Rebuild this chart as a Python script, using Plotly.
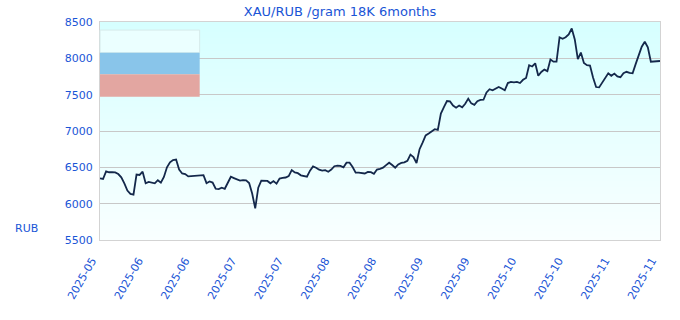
import base64, struct, zlib
import pandas as pd
import plotly.graph_objects as go

# ---- data ----
start_date = "2025-05-20"
end_date = "2025-11-20"
prices = [
    6349, 6340, 6445, 6432, 6432, 6430, 6408, 6362, 6280, 6180,
    6135, 6125, 6400, 6395, 6440, 6280, 6300, 6285, 6280, 6323,
    6290, 6368, 6500, 6568, 6601, 6608, 6470, 6415, 6408, 6375,
    6378, 6380, 6380, 6380, 6392, 6282, 6305, 6290, 6205, 6200,
    6220, 6205, 6300, 6370, 6352, 6333, 6318, 6325, 6322, 6285,
    6140, 5935, 6220, 6316, 6316, 6313, 6280, 6310, 6275, 6345,
    6355, 6360, 6380, 6462, 6430, 6420, 6390, 6378, 6372, 6455,
    6512, 6495, 6468, 6455, 6462, 6440, 6470, 6515, 6523, 6520,
    6500, 6564, 6564, 6505, 6427, 6427, 6420, 6415, 6438, 6433,
    6412, 6470, 6480, 6495, 6530, 6564, 6532, 6495, 6540, 6560,
    6568, 6590, 6675, 6640, 6560, 6750, 6840, 6940, 6965, 7000,
    7025, 7015, 7240, 7330, 7412, 7408, 7350, 7320, 7350, 7325,
    7375, 7445, 7380, 7360, 7410, 7427, 7430, 7530, 7575, 7560,
    7588, 7605, 7585, 7560, 7660, 7675, 7668, 7676, 7660, 7705,
    7730, 7905, 7888, 7932, 7760, 7812, 7845, 7824, 7985, 7954,
    7954, 8290, 8270, 8290, 8330, 8410, 8260, 7990, 8080, 7935,
    7906, 7900, 7735, 7605, 7600, 7665, 7745, 7794, 7760, 7790,
    7750, 7740, 7795, 7815, 7800, 7794, 7920, 8030, 8160, 8228,
    8150, 7954, 7954, 7958, 7963,
]
tick_labels = ["2025-05", "2025-06", "2025-06", "2025-07", "2025-07",
               "2025-08", "2025-08", "2025-09", "2025-09", "2025-10",
               "2025-10", "2025-11", "2025-11"]
y_ticks = [5500, 6000, 6500, 7000, 7500, 8000, 8500]

dates = pd.date_range(start_date, periods=len(prices), freq="D")
tick_vals = pd.date_range(start_date, end_date, periods=len(tick_labels))

BLUE = "#1a55d6"
FONT = "DejaVu Sans"


# ---- vertical gradient background image (PNG built in memory) ----
def gradient_png(top, bottom, h=220):
    rows = b""
    for i in range(h):
        t = i / (h - 1)
        c = bytes(int(round(top[k] + (bottom[k] - top[k]) * t)) for k in range(3))
        rows += b"\x00" + c
    def chunk(tag, data):
        return struct.pack(">I", len(data)) + tag + data + struct.pack(">I", zlib.crc32(tag + data) & 0xffffffff)
    png = b"\x89PNG\r\n\x1a\n"
    png += chunk(b"IHDR", struct.pack(">IIBBBBB", 1, h, 8, 2, 0, 0, 0))
    png += chunk(b"IDAT", zlib.compress(rows))
    png += chunk(b"IEND", b"")
    return "data:image/png;base64," + base64.b64encode(png).decode()


fig = go.Figure()
fig.add_trace(go.Scatter(
    x=dates, y=prices, mode="lines",
    line=dict(color="#14284b", width=1.8),
    showlegend=False, hoverinfo="x+y",
))

fig.update_layout(
    width=680, height=320,
    margin=dict(l=100, r=20, t=22, b=80),
    paper_bgcolor="white",
    plot_bgcolor="#f5ffff",
    title=dict(text="XAU/RUB /gram 18K 6months", x=0.5, xref="container",
               xanchor="center", y=0.963, yanchor="middle",
               font=dict(family=FONT, size=13, color=BLUE)),
    font=dict(family=FONT, size=11, color=BLUE),
    images=[dict(source=gradient_png((214, 255, 255), (249, 255, 255)),
                 xref="paper", yref="paper", x=0, y=1, sizex=1, sizey=1,
                 sizing="stretch", layer="below", xanchor="left", yanchor="top")],
    shapes=[
        dict(type="rect", xref="paper", yref="paper", x0=0, x1=0.178, y0=0.859, y1=0.963,
             fillcolor="#ebffff", line=dict(color="#d6eaea", width=1), layer="above"),
        dict(type="rect", xref="paper", yref="paper", x0=0, x1=0.178, y0=0.760, y1=0.859,
             fillcolor="#89c5ea", line=dict(width=0), layer="above"),
        dict(type="rect", xref="paper", yref="paper", x0=0, x1=0.178, y0=0.657, y1=0.760,
             fillcolor="#e3a6a1", line=dict(width=0), layer="above"),
    ],
    annotations=[dict(text="RUB", xref="paper", yref="paper", x=-0.132, y=0.055,
                      xanchor="center", yanchor="middle", showarrow=False,
                      font=dict(family=FONT, size=11, color=BLUE))],
)

fig.update_xaxes(
    range=[dates[0], tick_vals[-1]],
    tickmode="array", tickvals=tick_vals, ticktext=tick_labels,
    tickangle=-60, showgrid=False, zeroline=False,
    showline=True, linecolor="#d3d3d3", linewidth=1, mirror=True,
    ticks="", ticklabelstandoff=9, ticklabelshift=-8,
    tickfont=dict(family=FONT, size=11, color=BLUE),
)
fig.update_yaxes(
    range=[5500, 8500], tickmode="array", tickvals=y_ticks,
    showgrid=True, gridcolor="#c8c8c8", gridwidth=1, zeroline=False,
    showline=True, linecolor="#d3d3d3", linewidth=1, mirror=True,
    ticks="", ticklabelstandoff=4,
    tickfont=dict(family=FONT, size=11, color=BLUE),
)

fig.write_html("out.html")
